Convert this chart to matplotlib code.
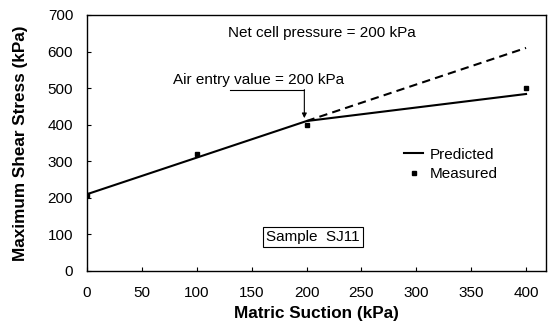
import matplotlib
matplotlib.use("Agg")
import matplotlib.pyplot as plt

plt.rcParams['font.family'] = ['Liberation Sans', 'DejaVu Sans']

pred_x = [0, 100, 200, 400]
pred_y = [210, 310, 410, 484]
ext_x = [200, 400]
ext_y = [410, 610]
meas_x = [0, 100, 200, 400]
meas_y = [208, 320, 398, 500]
xticks = [0, 50, 100, 150, 200, 250, 300, 350, 400]
yticks = [0, 100, 200, 300, 400, 500, 600, 700]

fig = plt.figure(figsize=(5.48, 3.31), dpi=100)
ax = fig.add_axes([0.1588, 0.1813, 0.8372, 0.7734])
ax.plot(pred_x, pred_y, color='black', lw=1.5, label='Predicted')
ax.plot(ext_x, ext_y, color='black', lw=1.5, ls=(0, (4, 2.5)))
ax.plot(meas_x, meas_y, ls='none', marker='s', ms=3.5, color='black', label='Measured')

ax.set_xlim(0, 418)
ax.set_ylim(0, 700)
ax.set_xticks(xticks)
ax.set_yticks(yticks)
ax.tick_params(direction='in', length=3, labelsize=11)
ax.tick_params(axis='x', pad=11)
ax.tick_params(axis='y', pad=10)
for s in ax.spines.values():
    s.set_linewidth(1.0)
ax.set_xlabel('Matric Suction (kPa)', fontsize=12.3, fontweight='bold', labelpad=4)
ax.set_ylabel('Maximum Shear Stress (kPa)', fontsize=12.3, fontweight='bold', labelpad=14)

ax.text(214, 651, 'Net cell pressure = 200 kPa', fontsize=11, ha='center', va='center')
ax.text(78, 522, 'Air entry value = 200 kPa', fontsize=11, ha='left', va='center')
ax.plot([130, 198], [495, 495], color='black', lw=0.8)
ax.annotate('', xy=(198, 418), xytext=(198, 496),
            arrowprops=dict(arrowstyle='-|>', color='black', lw=0.8,
                            mutation_scale=7, shrinkA=0, shrinkB=0))
ax.text(206, 93, 'Sample  SJ11', fontsize=11, ha='center', va='center',
        bbox=dict(boxstyle='square,pad=0.2', fc='white', ec='black', lw=0.8))

leg = ax.legend(loc='upper left', bbox_to_anchor=(0.66, 0.535), frameon=False,
                fontsize=11, handlelength=1.3, handletextpad=0.4, labelspacing=0.35)

fig.savefig('out.png', dpi=100)
